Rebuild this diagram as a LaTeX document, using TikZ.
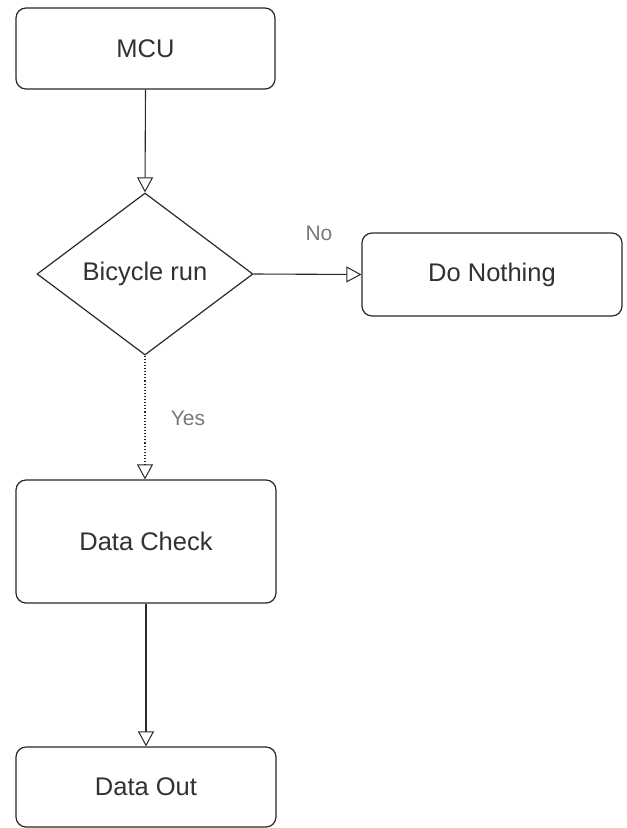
\documentclass[tikz,border=0pt]{standalone}
\usepackage{fontspec}
\setmainfont{Liberation Sans}
\usetikzlibrary{shapes.geometric,arrows.meta}
\definecolor{txt}{RGB}{50,50,50}
\definecolor{edge}{RGB}{40,40,40}
\definecolor{lbl}{RGB}{120,120,120}
\begin{document}
\begin{tikzpicture}[x=1pt,y=-1pt,
  procbox/.style={draw=edge, line width=1.2pt, rounded corners=10pt, fill=white,
    text=txt, font=\fontsize{25.5}{28}\selectfont, inner sep=0pt, anchor=center},
  decide/.style={draw=edge, line width=1.2pt, diamond, aspect=1.3333, fill=white,
    text=txt, font=\fontsize{25.5}{28}\selectfont, inner sep=0pt,
    minimum width=216pt, minimum height=162pt},
  flow/.style={draw=edge, line width=1.1pt, -{Triangle[open, length=15pt, width=16pt, line width=1pt]}},
  edgelabel/.style={text=lbl, font=\fontsize{21}{23}\selectfont}
]
\useasboundingbox (0,0) rectangle (627,828);
\node[procbox, minimum width=259pt, minimum height=81pt] (mcu) at (145.5,48.5) {MCU};
\node[decide] (bike) at (145,274) {Bicycle run};
\node[procbox, minimum width=260pt, minimum height=83pt] (nothing) at (492,274.5) {Do Nothing};
\node[procbox, minimum width=260pt, minimum height=123pt] (check) at (146,541.5) {Data Check};
\node[procbox, minimum width=260pt, minimum height=80pt] (out) at (146,787) {Data Out};
\draw[flow] (mcu.south) -- (bike.north);
\draw[flow] (bike.east) -- (nothing.west);
\draw[flow, dotted] (bike.south) -- (bike.south |- check.north);
\draw[flow] (check.south) -- (check.south |- out.north);
\node[edgelabel] (nolbl) at (319,233) {No};
\node[edgelabel] (yeslbl) at (188,418) {Yes};
\end{tikzpicture}
\end{document}
